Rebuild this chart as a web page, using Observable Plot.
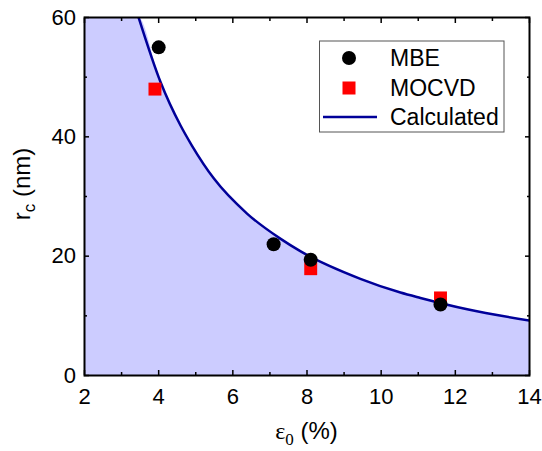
<!DOCTYPE html>
<html><head><meta charset="utf-8">
<script src="https://cdn.jsdelivr.net/npm/d3@7"></script>
<script src="https://cdn.jsdelivr.net/npm/@observablehq/plot@0.6"></script>
<style>body{margin:0;background:#fff} svg{display:block}</style>
</head><body><div id="chart"></div>
<script>
// Data
const mbeStrain = [4.0, 7.1, 8.1, 11.6];
const mbeRadius = [55.0, 22.0, 19.4, 11.9];
const mocvdStrain = [3.9, 8.1, 11.6];
const mocvdRadius = [48.0, 17.9, 13.0];
const calcStrain = [3.46, 4.05, 4.59, 4.90, 5.49, 6.39, 7.29, 7.83, 9.44, 10.52, 11.06, 12.32, 14.0];
const calcRadius = [60.0, 49.2, 41.9, 38.5, 33.0, 27.1, 22.9, 20.8, 16.2, 13.9, 13.0, 11.1, 9.2];
const xMajor = [2, 4, 6, 8, 10, 12, 14];
const xMinor = [3, 5, 7, 9, 11, 13];
const yMajor = [0, 20, 40, 60];
const yMinor = [10, 30, 50];
const legendLabels = ["MBE", "MOCVD", "Calculated"];

const mbe = mbeStrain.map((e, i) => ({e, r: mbeRadius[i]}));
const mocvd = mocvdStrain.map((e, i) => ({e, r: mocvdRadius[i]}));
const calc = calcStrain.map((e, i) => ({e, r: calcRadius[i]}));
const fillData = [{e: xMajor[0], r: yMajor[yMajor.length - 1]}, ...calc];

const blank = () => "";
const chart = Plot.plot({
  width: 542, height: 451,
  marginLeft: 84, marginRight: 13, marginTop: 17, marginBottom: 76,
  style: {fontFamily: "'Liberation Sans', Arial, sans-serif", fontSize: "22px", color: "black", background: "white"},
  x: {domain: [2, 14]},
  y: {domain: [0, 60]},
  marks: [
    Plot.areaY(fillData, {x: "e", y: "r", fill: "#ccccff", curve: "monotone-x", clip: true}),
    Plot.line(calc, {x: "e", y: "r", stroke: "#000099", strokeWidth: 2.5, curve: "monotone-x", clip: true}),
    Plot.dot(mocvd, {x: "e", y: "r", symbol: "square", r: 7.3, fill: "#ff0000"}),
    Plot.dot(mbe, {x: "e", y: "r", r: 7, fill: "black"}),
    Plot.axisX({anchor: "bottom", ticks: xMajor, tickSize: -5, tickPadding: 18, strokeWidth: 1.5, label: null, fontSize: 22}),
    Plot.axisX({anchor: "bottom", ticks: xMinor, tickSize: -3, tickFormat: blank, strokeWidth: 1.5, label: null}),
    Plot.axisX({anchor: "top", ticks: xMajor, tickSize: -5, tickFormat: blank, strokeWidth: 1.5, label: null}),
    Plot.axisX({anchor: "top", ticks: xMinor, tickSize: -3, tickFormat: blank, strokeWidth: 1.5, label: null}),
    Plot.axisY({anchor: "left", ticks: yMajor, tickSize: -5, tickPadding: 13.5, strokeWidth: 1.5, label: null, fontSize: 22}),
    Plot.axisY({anchor: "left", ticks: yMinor, tickSize: -3, tickFormat: blank, strokeWidth: 1.5, label: null}),
    Plot.axisY({anchor: "right", ticks: yMajor, tickSize: -5, tickFormat: blank, strokeWidth: 1.5, label: null}),
    Plot.axisY({anchor: "right", ticks: yMinor, tickSize: -3, tickFormat: blank, strokeWidth: 1.5, label: null}),
    Plot.frame({stroke: "black", strokeWidth: 2})
  ]
});
document.getElementById("chart").appendChild(chart);

const svg = d3.select(chart);
// Axis titles
const yt = svg.append("text")
  .attr("transform", "translate(30,184) rotate(-90)")
  .attr("text-anchor", "middle").style("font-size", "24px").attr("fill", "black");
yt.append("tspan").text("r");
yt.append("tspan").style("font-size", "17px").attr("dy", 5).text("c");
yt.append("tspan").attr("dy", -5).text(" (nm)");

const xt = svg.append("text")
  .attr("x", 306.5).attr("y", 439)
  .attr("text-anchor", "middle").style("font-size", "24px").attr("fill", "black");
xt.append("tspan").style("font-family", "'Liberation Serif', serif").text("\u03b5");
xt.append("tspan").style("font-family", "'Liberation Serif', serif").style("font-size", "17px").attr("dy", 6).text("0");
xt.append("tspan").attr("dy", -6).text(" (%)");

// Legend
const lg = svg.append("g").style("font-size", "23px").attr("fill", "black").attr("text-anchor", "start");
lg.append("rect").attr("x", 319.5).attr("y", 41).attr("width", 184.5).attr("height", 91)
  .attr("fill", "white").attr("stroke", "#555").attr("stroke-width", 1);
lg.append("circle").attr("cx", 349).attr("cy", 58).attr("r", 7).attr("fill", "black");
lg.append("rect").attr("x", 342.5).attr("y", 81.5).attr("width", 13).attr("height", 13).attr("fill", "#ff0000");
lg.append("line").attr("x1", 323).attr("x2", 377).attr("y1", 117).attr("y2", 117)
  .attr("stroke", "#000099").attr("stroke-width", 2.5);
legendLabels.forEach((t, i) => {
  lg.append("text").attr("x", 390).attr("y", [65.5, 95.5, 124.5][i]).text(t);
});
</script>
</body></html>
